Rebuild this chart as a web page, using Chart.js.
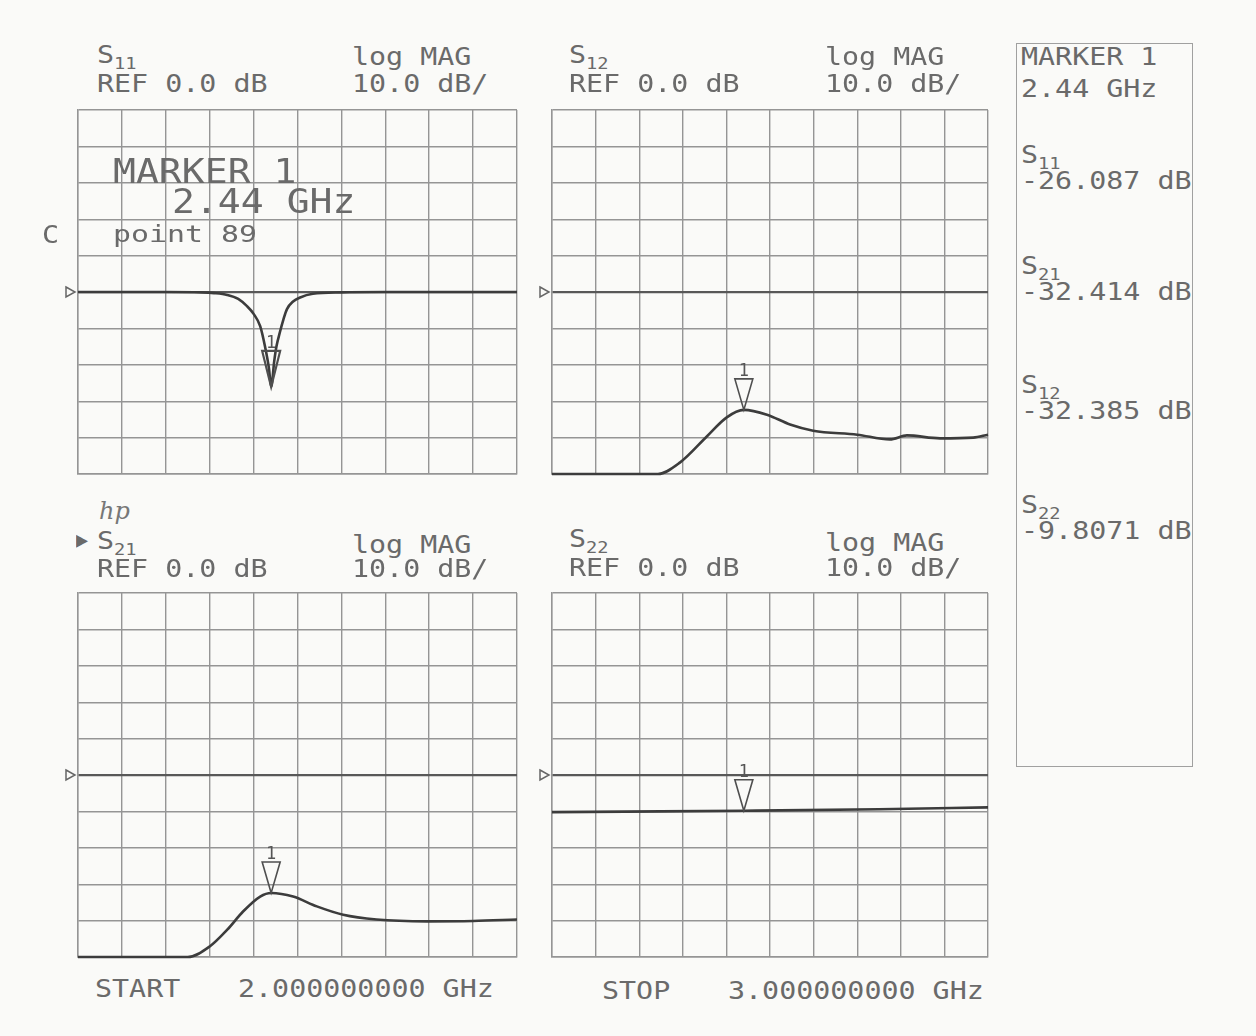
<!DOCTYPE html>
<html lang="en">
<head>
<meta charset="UTF-8">
<title>S-Parameter Display</title>
<script src="https://cdn.jsdelivr.net/npm/chart.js"></script>
<style>
  body {
    margin: 0;
    width: 1256px;
    height: 1036px;
    position: relative;
    overflow: hidden;
    background: #fafaf8;
    font-family: "DejaVu Sans Mono", monospace;
    color: #6a6a6a;
  }
  canvas { position: absolute; }
  .txt {
    position: absolute;
    white-space: pre;
    line-height: 1;
    transform-origin: 0 0;
  }
  .txt sub {
    font-size: 0.66em;
    vertical-align: -6px;
    line-height: 0;
  }
  .hp {
    position: absolute;
    left: 99px; top: 497px;
    font: italic 24px "DejaVu Serif", serif;
    color: #777;
  }
  .box {
    position: absolute;
    left: 1016px; top: 43px;
    width: 175px; height: 722px;
    border: 1.5px solid #a0a0a0;
  }
</style>
</head>
<body>
<div class="box"></div>
<div class="hp">hp</div>
<script>
// sweep and display settings
const startGHz = 2.0;
const stopGHz = 3.0;
const markerGHz = 2.44;
const refLevel = 0.0;
const dbPerDiv = 10.0;

// S11 return loss, dip at the marker
const s11Freq = [2.0, 2.1, 2.2, 2.28, 2.31, 2.34, 2.365, 2.385, 2.40, 2.415, 2.426, 2.435, 2.44, 2.447, 2.452, 2.46, 2.468, 2.476, 2.49, 2.506, 2.535, 2.6, 2.7, 2.8, 2.9, 3.0];
const s11Mag  = [0, 0, 0, -0.1, -0.3, -0.8, -1.9, -3.9, -6.0, -9.4, -15, -21, -26.087, -19, -15, -11, -7.5, -4.7, -2.6, -1.5, -0.5, -0.1, 0, 0, 0, 0];

// S12 reverse transmission
const s12Freq = [2.0, 2.1, 2.2, 2.243, 2.294, 2.355, 2.40, 2.44, 2.493, 2.546, 2.599, 2.70, 2.775, 2.814, 2.89, 2.966, 3.0];
const s12Mag  = [-50, -50, -50, -50, -46.8, -39.7, -34.5, -32.385, -33.7, -36.4, -38.1, -39.2, -40.5, -39.4, -40.2, -40.0, -39.2];

// S21 forward transmission
const s21Freq = [2.0, 2.1, 2.2, 2.25, 2.30, 2.34, 2.376, 2.415, 2.44, 2.49, 2.544, 2.604, 2.68, 2.795, 2.9, 3.0];
const s21Mag  = [-50, -50, -50, -50, -47.1, -42.5, -37.5, -33.4, -32.414, -33.4, -36.1, -38.4, -39.7, -40.2, -40.1, -39.7];

// S22 output match
const s22Freq = [2.0, 2.25, 2.44, 2.75, 3.0];
const s22Mag  = [-10.2, -10.0, -9.8071, -9.4, -8.9];

const PAD = { l: 30, r: 12, t: 12, b: 12 };
const gridGrey = '#959595';
const traceInk = '#3c3c3c';

function put(html, x, capTop, size = 24, sx = 1.18) {
  const el = document.createElement('div');
  el.className = 'txt';
  el.style.left = x + 'px';
  el.style.top = (capTop - size * 0.117) + 'px';
  el.style.fontSize = size + 'px';
  el.style.transform = 'scaleX(' + sx + ')';
  el.innerHTML = html;
  document.body.appendChild(el);
}

// reference arrow on the left edge and marker 1 triangle
const nwaMarks = {
  id: 'nwaMarks',
  afterDatasetsDraw(chart, args, opts) {
    const { ctx, chartArea: a, scales: { x, y } } = chart;
    ctx.save();
    const ry = y.getPixelForValue(refLevel);
    ctx.strokeStyle = '#666';
    ctx.lineWidth = 1.5;
    ctx.beginPath();
    ctx.moveTo(a.left - 12, ry - 5);
    ctx.lineTo(a.left - 3, ry);
    ctx.lineTo(a.left - 12, ry + 5);
    ctx.closePath();
    ctx.stroke();

    const mx = x.getPixelForValue(opts.freq);
    const my = y.getPixelForValue(opts.value);
    const h = opts.long ? 36 : 31;
    ctx.strokeStyle = '#4f4f4f';
    ctx.lineWidth = opts.long ? 2.2 : 1.6;
    ctx.beginPath();
    ctx.moveTo(mx, my);
    ctx.lineTo(mx - 9, my - h);
    ctx.lineTo(mx + 9, my - h);
    ctx.closePath();
    ctx.stroke();
    ctx.fillStyle = '#555';
    ctx.font = '17px "DejaVu Sans Mono"';
    ctx.textAlign = 'center';
    ctx.textBaseline = 'bottom';
    ctx.fillText('1', mx, my - h + 1);
    ctx.restore();
  }
};

function makePanel(left, top, width, height, freq, mag, longMark) {
  const cv = document.createElement('canvas');
  cv.width = width + PAD.l + PAD.r;
  cv.height = height + PAD.t + PAD.b;
  cv.style.left = (left - PAD.l) + 'px';
  cv.style.top = (top - PAD.t) + 'px';
  document.body.appendChild(cv);

  const markerDb = mag[freq.indexOf(markerGHz)];
  const isRef = c => c.tick && c.tick.value === refLevel && c.scale.axis === 'y';
  const axisCommon = {
    grid: {
      drawTicks: false,
      color: c => isRef(c) ? '#585858' : gridGrey,
      lineWidth: c => isRef(c) ? 2.2 : 1.4
    },
    border: { color: gridGrey, width: 1.4 }
  };

  new Chart(cv, {
    type: 'line',
    data: {
      datasets: [{
        data: freq.map((f, i) => ({ x: f, y: mag[i] })),
        borderColor: traceInk,
        borderWidth: 2.6,
        pointRadius: 0,
        cubicInterpolationMode: 'monotone',
        clip: 4
      }]
    },
    options: {
      responsive: false,
      animation: false,
      events: [],
      layout: { padding: { left: PAD.l, right: PAD.r, top: PAD.t, bottom: PAD.b } },
      plugins: {
        legend: { display: false },
        tooltip: { enabled: false },
        nwaMarks: { freq: markerGHz, value: markerDb, long: longMark }
      },
      scales: {
        x: Object.assign({}, axisCommon, {
          type: 'linear', min: startGHz, max: stopGHz,
          ticks: { display: false, padding: 0, stepSize: (stopGHz - startGHz) / 10 },
          afterFit: s => { s.height = 0; }
        }),
        y: Object.assign({}, axisCommon, {
          min: refLevel - 5 * dbPerDiv, max: refLevel + 5 * dbPerDiv,
          ticks: { display: false, padding: 0, stepSize: dbPerDiv },
          afterFit: s => { s.width = 0; }
        })
      }
    },
    plugins: [nwaMarks]
  });
  return markerDb;
}

const m11 = makePanel(78, 110, 439, 364, s11Freq, s11Mag, true);
const m12 = makePanel(552, 110, 436, 364, s12Freq, s12Mag, false);
const m21 = makePanel(78, 593, 439, 364, s21Freq, s21Mag, false);
const m22 = makePanel(552, 593, 436, 364, s22Freq, s22Mag, false);

const refTxt = 'REF ' + refLevel.toFixed(1) + ' dB';
const scaleTxt = dbPerDiv.toFixed(1) + ' dB/';
const mkTxt = markerGHz.toFixed(2) + ' GHz';
const pointNo = Math.round((markerGHz - startGHz) / (stopGHz - startGHz) * 200) + 1;

// channel headers
put('S<sub>11</sub>', 97, 46);
put(refTxt, 97, 75);
put('log MAG', 352, 48);
put(scaleTxt, 352, 75);

put('S<sub>12</sub>', 569, 46);
put(refTxt, 569, 75);
put('log MAG', 825, 48);
put(scaleTxt, 825, 75);

put('\u25B6', 76, 532, 22, 0.9);
put('S<sub>21</sub>', 97, 532);
put(refTxt, 97, 560);
put('log MAG', 352, 536);
put(scaleTxt, 352, 560);

put('S<sub>22</sub>', 569, 530);
put(refTxt, 569, 559);
put('log MAG', 825, 534);
put(scaleTxt, 825, 559);

// marker annotation inside the S11 grid
put('MARKER 1', 113, 158, 34, 1.12);
put(mkTxt, 172, 188, 34, 1.12);
put('point ' + pointNo, 113, 226, 23, 1.3);
put('C', 42, 226);

// sweep limits
put('START', 95, 980);
put(startGHz.toFixed(9) + ' GHz', 238, 980);
put('STOP', 602, 982);
put(stopGHz.toFixed(9) + ' GHz', 728, 982);

// marker readout list
put('MARKER 1', 1021, 48);
put(mkTxt, 1021, 80);
const readouts = [['11', m11, 146], ['21', m21, 257], ['12', m12, 376], ['22', m22, 496]];
readouts.forEach(([sub, val, y0]) => {
  put('S<sub>' + sub + '</sub>', 1021, y0);
  put(val.toPrecision(5) + ' dB', 1021, y0 + 26);
});
</script>
</body>
</html>
